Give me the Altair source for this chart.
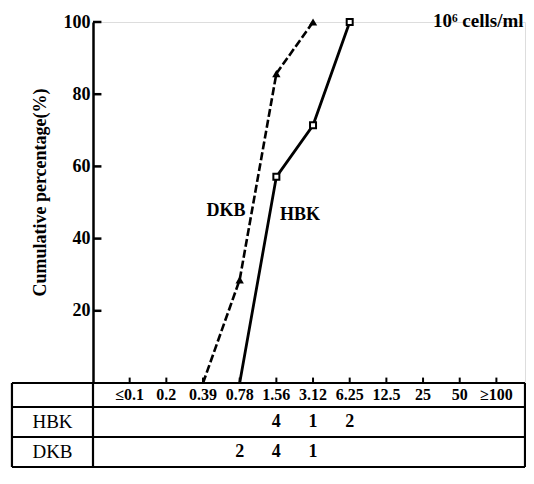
import altair as alt
import pandas as pd

# ---- data ----
categories = ["≤0.1", "0.2", "0.39", "0.78", "1.56", "3.12", "6.25", "12.5", "25", "50", "≥100"]

hbk_x = ["0.78", "1.56", "3.12", "6.25"]
hbk_pct = [0, 57.1, 71.4, 100]
dkb_x = ["0.39", "0.78", "1.56", "3.12"]
dkb_pct = [0, 28.6, 85.7, 100]

row_names = ["HBK", "DKB"]
hbk_count_x = ["1.56", "3.12", "6.25"]
hbk_counts = [4, 1, 2]
dkb_count_x = ["0.78", "1.56", "3.12"]
dkb_counts = [2, 4, 1]

y_ticks = [20, 40, 60, 80, 100]

# ---- layout constants (data units) ----
idx = {c: i for i, c in enumerate(categories)}
X_MAX = 10.78
X_LEFT, X_DIV, X_RIGHT = -3.21, -1.0, X_MAX
Y_TOP, Y_H1, Y_H2, Y_BOT = 0.0, -6.65, -14.96, -23.27
FONT = "Liberation Serif"
NARROW = "Liberation Sans Narrow, Arial Narrow, Liberation Serif"

lines_df = pd.DataFrame(
    [{"series": "HBK", "x": idx[c], "y": v, "o": i} for i, (c, v) in enumerate(zip(hbk_x, hbk_pct))]
    + [{"series": "DKB", "x": idx[c], "y": v, "o": i} for i, (c, v) in enumerate(zip(dkb_x, dkb_pct))]
)
hbk_df = lines_df[(lines_df.series == "HBK")]
dkb_df = lines_df[(lines_df.series == "DKB")]

x_scale = alt.Scale(domain=[-1, X_MAX], nice=False, zero=False)
y_scale = alt.Scale(domain=[0, 100], nice=False, zero=False)

y_axis = alt.Axis(
    values=y_ticks,
    title="Cumulative percentage(%)",
    titleFont=FONT,
    titleFontSize=18,
    titleFontWeight="bold",
    titleColor="black",
    titleX=-53,
    titleY=170,
    titleAngle=270,
    titleAlign="center",
    titleBaseline="middle",
    labelFont=FONT,
    labelFontSize=18,
    labelFontWeight="bold",
    labelColor="black",
    labelPadding=3,
    ticks=False,
    domainWidth=2.5,
    domainColor="black",
    grid=False,
)


def X(f="x"):
    return alt.X(f"{f}:Q", scale=x_scale, axis=None)


def Y(f="y"):
    return alt.Y(f"{f}:Q", scale=y_scale, axis=y_axis)


# inward y ticks
ytick_df = pd.DataFrame({"x": [-1.0] * len(y_ticks), "x2": [-0.77] * len(y_ticks), "y": y_ticks})
ytick_layer = alt.Chart(ytick_df).mark_rule(color="black", strokeWidth=2.5).encode(
    x=X(), x2="x2:Q", y=Y()
)

hbk_line = alt.Chart(hbk_df).mark_line(color="black", strokeWidth=2.8, clip=False).encode(
    x=X(), y=Y(), order="o:Q"
)
dkb_line = alt.Chart(dkb_df).mark_line(color="black", strokeWidth=2.6, strokeDash=[8, 3], clip=False).encode(
    x=X(), y=Y(), order="o:Q"
)
hbk_pts = alt.Chart(hbk_df[hbk_df.y > 0]).mark_point(
    shape="square", size=36, filled=True, fill="white", stroke="black", strokeWidth=2, opacity=1
).encode(x=X(), y=Y())
dkb_pts = alt.Chart(dkb_df[dkb_df.y > 0]).mark_point(
    shape="triangle-up", size=70, filled=True, color="black", opacity=1
).encode(x=X(), y=Y())

# series labels
series_lbl = pd.DataFrame({"x": [3.16, 4.1], "y": [47.6, 46.5], "t": ["DKB", "HBK"]})
lbl_dkb = alt.Chart(series_lbl.iloc[[0]]).mark_text(
    font=FONT, fontSize=18, fontWeight="bold", align="right", baseline="middle", color="black"
).encode(x=X(), y=Y(), text="t:N")
lbl_hbk = alt.Chart(series_lbl.iloc[[1]]).mark_text(
    font=FONT, fontSize=18, fontWeight="bold", align="left", baseline="middle", color="black"
).encode(x=X(), y=Y(), text="t:N")

units = alt.Chart(pd.DataFrame({"x": [10.74], "y": [100.2], "t": ["10⁶ cells/ml"]})).mark_text(
    font=FONT, fontSize=19, fontWeight="bold", align="right", baseline="middle", color="black", clip=False
).encode(x=X(), y=Y(), text="t:N")

# table lines
h_rules = pd.DataFrame({"x": [X_LEFT] * 4, "x2": [X_RIGHT] * 4, "y": [Y_TOP, Y_H1, Y_H2, Y_BOT]})
v_rules = pd.DataFrame({"x": [X_LEFT, X_DIV, X_RIGHT], "y": [Y_TOP] * 3, "y2": [Y_BOT] * 3})
h_layer = alt.Chart(h_rules).mark_rule(color="black", strokeWidth=2.2, clip=False).encode(
    x=X(), x2="x2:Q", y=Y()
)
v_layer = alt.Chart(v_rules).mark_rule(color="black", strokeWidth=2.2, clip=False).encode(
    x=X(), y=Y(), y2="y2:Q"
)

# x ticks above table
n = len(categories)
ticks_df = pd.DataFrame({"x": list(range(n)), "y": [0] * n, "y2": [1.5] * n})
tick_layer = alt.Chart(ticks_df).mark_rule(color="black", strokeWidth=2).encode(
    x=X(), y=Y(), y2="y2:Q"
)

# header labels
hdr_df = pd.DataFrame({"x": list(range(n)), "y": [(Y_TOP + Y_H1) / 2] * n, "t": categories})
hdr_layer = alt.Chart(hdr_df).mark_text(
    font=NARROW, fontSize=16, fontWeight="bold", align="center", baseline="middle", color="black", clip=False
).encode(x=X(), y=Y(), text="t:N")

# row names
rows_df = pd.DataFrame(
    {"x": [(X_LEFT + X_DIV) / 2] * 2, "y": [(Y_H1 + Y_H2) / 2, (Y_H2 + Y_BOT) / 2], "t": row_names}
)
rows_layer = alt.Chart(rows_df).mark_text(
    font=FONT, fontSize=19, align="center", baseline="middle", color="black", clip=False
).encode(x=X(), y=Y(), text="t:N")

# counts
cnt_df = pd.DataFrame(
    [{"x": idx[c], "y": (Y_H1 + Y_H2) / 2, "t": str(v)} for c, v in zip(hbk_count_x, hbk_counts)]
    + [{"x": idx[c], "y": (Y_H2 + Y_BOT) / 2, "t": str(v)} for c, v in zip(dkb_count_x, dkb_counts)]
)
cnt_layer = alt.Chart(cnt_df).mark_text(
    font=FONT, fontSize=18, fontWeight="bold", align="center", baseline="middle", color="black", clip=False
).encode(x=X(), y=Y(), text="t:N")

chart = alt.layer(
    h_layer, v_layer, tick_layer, ytick_layer, hdr_layer, rows_layer, cnt_layer,
    dkb_line, hbk_line, dkb_pts, hbk_pts, lbl_dkb, lbl_hbk, units,
).properties(
    width=432,
    height=361,
    padding={"left": 85, "top": 14, "right": 1, "bottom": 87},
    autosize=alt.AutoSizeParams(type="none"),
).configure_view(strokeWidth=0).configure(background="white")

chart.save("out.html", embed_options={"renderer": "svg", "actions": False})
